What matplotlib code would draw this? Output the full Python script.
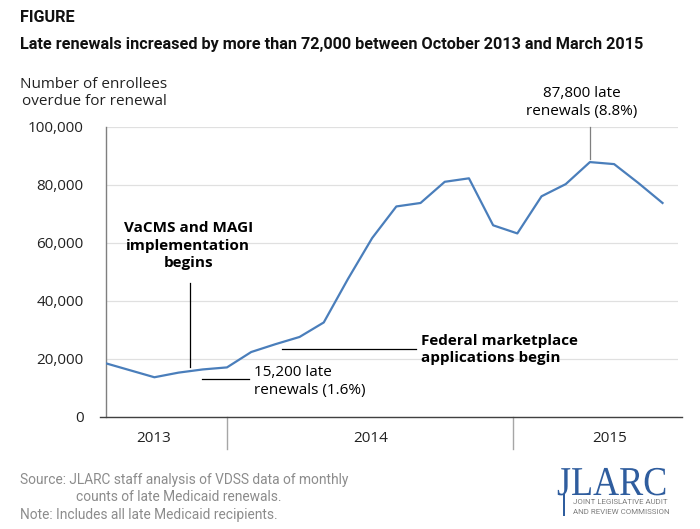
import matplotlib
matplotlib.use('Agg')
import matplotlib.pyplot as plt
from matplotlib.textpath import TextPath
from matplotlib.patches import PathPatch, Rectangle
from matplotlib.font_manager import FontProperties
from matplotlib.transforms import Affine2D

# Monthly late renewals, July 2013 - June 2015
months = ['Jul 2013', 'Aug 2013', 'Sep 2013', 'Oct 2013', 'Nov 2013', 'Dec 2013',
          'Jan 2014', 'Feb 2014', 'Mar 2014', 'Apr 2014', 'May 2014', 'Jun 2014',
          'Jul 2014', 'Aug 2014', 'Sep 2014', 'Oct 2014', 'Nov 2014', 'Dec 2014',
          'Jan 2015', 'Feb 2015', 'Mar 2015', 'Apr 2015', 'May 2015', 'Jun 2015']
late_renewals = [18400, 16000, 13600, 15200, 16300, 17000,
                 22300, 25000, 27500, 32500, 47500, 61600,
                 72500, 73700, 81000, 82200, 66000, 63200,
                 76000, 80200, 87800, 87100, 80600, 73700]
year_labels = ['2013', '2014', '2015']
year_label_pos = [1.98, 10.93, 20.83]
year_dividers = [5.01, 16.83]
y_ticks = [0, 20000, 40000, 60000, 80000, 100000]

W, H = 700, 529
body = 'Open Sans'
narrow = 'Roboto'


def fx(x):
    return x / W


def fy(y):
    return 1 - y / H


fig = plt.figure(figsize=(7, 5.29), dpi=100)
ax = fig.add_axes([fx(105.7), fy(416.7), (678 - 105.7) / W, (416.7 - 126.7) / H])

x = list(range(len(months)))
ax.plot(x, late_renewals, color='#4a7ebb', linewidth=1.6, solid_joinstyle='round', zorder=3)

ax.set_xlim(-0.012, 23.64)
ax.set_ylim(0, 100000)
ax.set_yticks(y_ticks)
ax.set_yticklabels([f'{v:,}' for v in y_ticks], fontsize=11, family=body, color='#222222')
ax.tick_params(axis='y', length=0, pad=16)
ax.set_xticks([])
ax.grid(axis='y', color='#e0e0e0', linewidth=0.9)
ax.set_axisbelow(True)
for s in ['top', 'right']:
    ax.spines[s].set_visible(False)
ax.spines['left'].set_color('#7f7f7f')
ax.spines['left'].set_linewidth(1.0)
ax.spines['bottom'].set_visible(False)

# bottom axis line, slightly longer than the gridlines
fig.add_artist(plt.Line2D([fx(100), fx(682)], [fy(416.7), fy(416.7)],
                          color='#404040', linewidth=1.0))

# year groups
for d in year_dividers:
    ax.plot([d, d], [0, -11000], color='#a6a6a6', linewidth=1.0, clip_on=False)
for lab, p in zip(year_labels, year_label_pos):
    ax.text(p, -7500, lab, ha='center', va='center', fontsize=11, family=body, color='#222222')

# annotations
ax.plot([3.47, 3.47], [17300, 46200], color='black', linewidth=0.9)
ax.text(3.4, 59000, 'VaCMS and MAGI\nimplementation\nbegins', ha='center', va='center',
        fontsize=11, family=body, fontweight='bold', linespacing=1.3)

ax.plot([3.95, 5.92], [13000, 13000], color='black', linewidth=0.9)
ax.text(6.1, 12300, '15,200 late\nrenewals (1.6%)', ha='left', va='center',
        fontsize=11, family=body, linespacing=1.27)

ax.plot([7.26, 12.8], [23240, 23240], color='black', linewidth=0.9)
ax.text(13.0, 23240, 'Federal marketplace\napplications begin', ha='left', va='center',
        fontsize=11, family=body, fontweight='bold', linespacing=1.27)

ax.plot([20, 20], [88800, 100000], color='#7f7f7f', linewidth=0.9, clip_on=False)
ax.text(19.65, 108300, '87,800 late\nrenewals (8.8%)', ha='center', va='center',
        fontsize=11, family=body, linespacing=1.3)

# header text
fig.text(fx(20), fy(18), 'FIGURE', ha='left', va='center', fontsize=11.7,
         family=narrow, fontweight='bold', color='#111111')
fig.text(fx(20), fy(45), 'Late renewals increased by more than 72,000 between October 2013 and March 2015',
         ha='left', va='center', fontsize=11.7, family=narrow, fontweight='bold', color='#111111')
fig.text(fx(94), fy(93), 'Number of enrollees\noverdue for renewal', ha='center', va='center',
         fontsize=11, family=body, color='#222222', linespacing=1.2)

# source notes
src_color = '#8c8c8c'
fig.text(fx(20), fy(480), 'Source: JLARC staff analysis of VDSS data of monthly',
         ha='left', va='center', fontsize=9.9, family=narrow, color=src_color)
fig.text(fx(76), fy(497), 'counts of late Medicaid renewals.',
         ha='left', va='center', fontsize=9.9, family=narrow, color=src_color)
fig.text(fx(20), fy(515), 'Note: Includes all late Medicaid recipients.',
         ha='left', va='center', fontsize=9.9, family=narrow, color=src_color)

# JLARC logo, drawn as a horizontally compressed text path (pixel coordinates)
logo_blue = '#2f5d9e'
logo_path = TextPath((0, 0), 'JLARC', size=41, prop=FontProperties(family='Liberation Serif'))
patch = PathPatch(logo_path, facecolor=logo_blue, edgecolor='none')
patch.set_transform(Affine2D().scale(0.88, 1.0).translate(557, H - 495))
fig.add_artist(patch)
# long tail of the J
tail = Rectangle((fx(562.5), fy(516)), 2.4 / W, 22 / H, transform=fig.transFigure,
                 facecolor=logo_blue, edgecolor='none')
fig.add_artist(tail)
fig.text(fx(573), fy(502), 'JOINT LEGISLATIVE AUDIT', ha='left', va='center',
         fontsize=5.7, family=narrow, color='#7f7f7f')
fig.text(fx(573), fy(512), 'AND REVIEW COMMISSION', ha='left', va='center',
         fontsize=5.7, family=narrow, color='#7f7f7f')

fig.savefig('out.png', dpi=100)
